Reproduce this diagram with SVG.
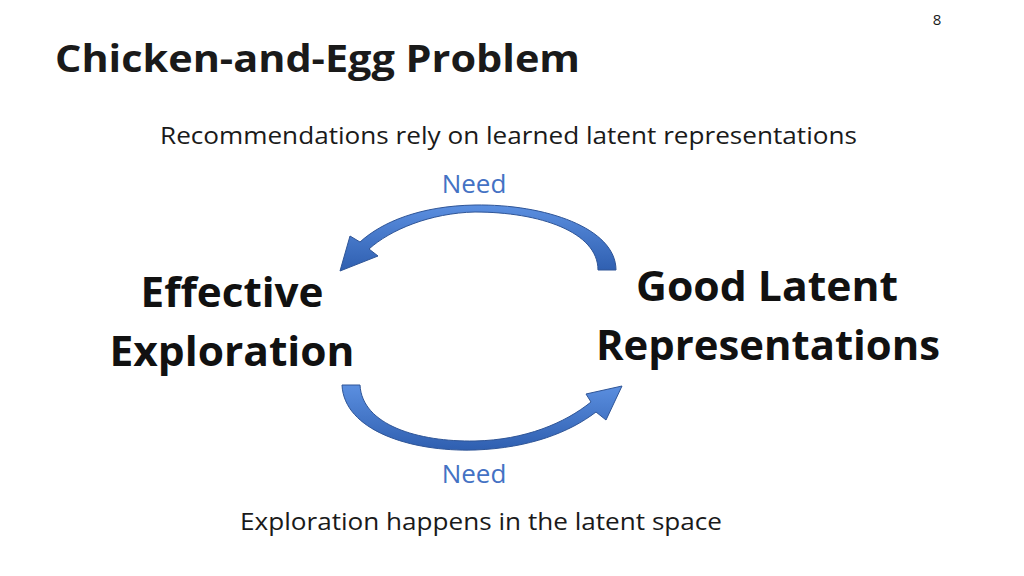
<svg xmlns="http://www.w3.org/2000/svg" width="1024" height="576" viewBox="0 0 1024 576">
<defs>
<linearGradient id="g" x1="0" y1="0" x2="0" y2="1"><stop offset="0" stop-color="#5b8fe0"/><stop offset="1" stop-color="#2f5fb0"/></linearGradient>
<style>
.t{font-family:"Open Sans","Liberation Sans",sans-serif;fill:#1a1a1a}
.n{font-family:"Open Sans","Liberation Sans",sans-serif;font-weight:bold;font-size:41px;fill:#111;text-anchor:middle}
.need{font-family:"Open Sans","Liberation Sans",sans-serif;font-size:26px;fill:#4472c4;text-anchor:middle}
.arr{fill:url(#g);stroke:#2f5597;stroke-width:1}
</style>
</defs>
<rect width="1024" height="576" fill="#fff"/>
<text class="t" x="937" y="25" font-size="15" text-anchor="middle">8</text>
<text class="t" x="55" y="72" font-size="38" font-weight="bold" textLength="525" lengthAdjust="spacingAndGlyphs">Chicken-and-Egg Problem</text>
<text class="t" x="160" y="144" font-size="24" textLength="697" lengthAdjust="spacingAndGlyphs">Recommendations rely on learned latent representations</text>
<text class="t" x="240" y="530" font-size="24" textLength="482" lengthAdjust="spacingAndGlyphs">Exploration happens in the latent space</text>
<g id="effective"><text class="n" x="232" y="307" textLength="183" lengthAdjust="spacingAndGlyphs">Effective</text><text class="n" x="232" y="366" textLength="245" lengthAdjust="spacingAndGlyphs">Exploration</text></g>
<g id="good"><text class="n" x="767" y="301" textLength="262" lengthAdjust="spacingAndGlyphs">Good Latent</text><text class="n" x="768" y="360" textLength="344" lengthAdjust="spacingAndGlyphs">Representations</text></g>
<g id="connectors">
<path class="arr" d="M616,270 C616,228 545,204 475,205 C420,206 382,222 360,242 L350,236 L340,271 L378,256 L369,249 C390,230 430,213 475,212 C540,212 598,232 598,270 Z"/>
<path class="arr" d="M342,385 C344,430 410,452 475,450 C530,448 570,432 596,412 L606,420 L622,386 L586,394 L591,402 C565,423 525,440 475,441 C418,442 362,425 360,385 Z"/>
<text class="need" x="474" y="193">Need</text>
<text class="need" x="474" y="483">Need</text>
</g>
</svg>
